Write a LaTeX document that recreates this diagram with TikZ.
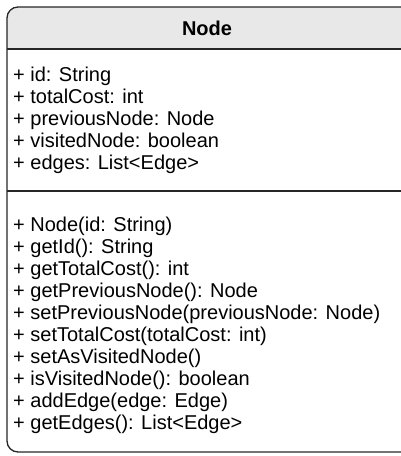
\documentclass[tikz,border=0pt]{standalone}
\usepackage{fontspec}
\setmainfont{Liberation Sans}
\usepackage{xcolor}
\usetikzlibrary{positioning,calc}
\definecolor{headgray}{RGB}{232,232,232}
\tikzstyle{member} = [anchor=north west, align=left, inner sep=0pt,
  font=\fontsize{20}{22}\selectfont]
\tikzstyle{frame} = [draw=black!85, line width=1.3pt]

\begin{document}
\begin{tikzpicture}[x=1pt,y=-1pt]
    \useasboundingbox (0,0) rectangle (401,456);
    \clip (0,0) rectangle (401,456);

    % Define class box
    \coordinate (topleft) at (7,7);
    \coordinate (headleft) at (7,49);
    \coordinate (headright) at (416,49);
    \coordinate (sepleft) at (7,191);
    \coordinate (sepright) at (416,191);
    \coordinate (bottomright) at (416,452);

    \fill[headgray] (headleft) [rounded corners=11pt] -- (topleft)
        -- (topleft -| bottomright) [sharp corners] -- (headright) -- cycle;
    \draw[frame, rounded corners=11pt] (topleft) rectangle (bottomright);
    \draw[frame] (headleft) -- (headright);
    \draw[frame] (sepleft) -- (sepright);

    % Define nodes
    \node[font=\fontsize{20}{22}\selectfont\bfseries] (title)
        at (207,28) {Node};

    \node[member] (fields) at (13,67) {+ id: String\\
        + totalCost: int\\
        + previousNode: Node\\
        + visitedNode: boolean\\
        + edges: List<Edge>};

    \node[member] (methods) at (13,217) {+ Node(id: String)\\
        + getId(): String\\
        + getTotalCost(): int\\
        + getPreviousNode(): Node\\
        + setPreviousNode(previousNode: Node)\\
        + setTotalCost(totalCost: int)\\
        + setAsVisitedNode()\\
        + isVisitedNode(): boolean\\
        + addEdge(edge: Edge)\\
        + getEdges(): List<Edge>};

\end{tikzpicture}
\end{document}
